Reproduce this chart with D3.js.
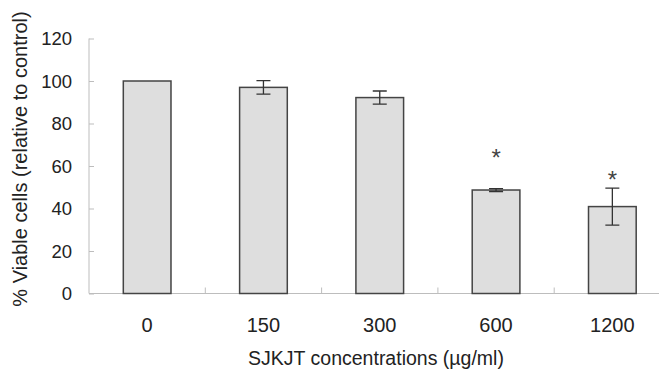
<!DOCTYPE html>
<html lang="en">
<head>
<meta charset="utf-8">
<title>Viable cells</title>
<script src="https://d3js.org/d3.v7.min.js"></script>
<style type="text/css">
body { margin: 0; background: #fff; }
svg  { display: block; font-family: "Liberation Sans", Arial, sans-serif; }
.bar { fill: #dedede; stroke: #444; stroke-width: 1.5; }
.err { stroke: #333; stroke-width: 1.3; fill: none; }
</style>
</head>
<body>
<script type="text/javascript">

// data
var categories = ["0", "150", "300", "600", "1200"];
var values     = [100, 97, 92.2, 48.7, 40.9];
var errors     = [0, 3.2, 3.1, 0.7, 8.7];
var stars      = [null, null, null, 60, 49.5];   // where the * marks sit
var yTicks     = [0, 20, 40, 60, 80, 100, 120];

var W = 659, H = 374;
var plotLeft = 89, plotBottom = 293.5, plotTop = 38.5;
var band = 116.3;

var svg = d3.select("body").append("svg")
    .attr("width", W)
    .attr("height", H);

var x = d3.scaleBand()
    .domain(categories)
    .range([plotLeft, plotLeft + band * categories.length])
    .paddingInner(0.59)
    .paddingOuter(0.295);

var y = d3.scaleLinear()
    .domain([0, 120])
    .range([plotBottom, plotTop]);

// y axis
var yAxis = svg.append("g")
    .attr("transform", "translate(" + plotLeft + ",0)")
    .call(d3.axisRight(y).tickValues(yTicks).tickSize(5).tickFormat(""));
yAxis.select(".domain").attr("stroke", "#bdbdbd").attr("d", "M0," + y(120) + "V" + plotBottom);
yAxis.selectAll(".tick line").attr("stroke", "#bdbdbd");

svg.selectAll(".ylab")
    .data(yTicks)
    .enter()
    .append("text")
    .attr("class", "ylab")
    .attr("x", 72)
    .attr("y", function(d) { return y(d) + 6.5; })
    .attr("text-anchor", "end")
    .attr("font-size", 18.5)
    .attr("fill", "#222")
    .text(function(d) { return d; });

// x axis, ticks sit between the categories
svg.append("line")
    .attr("x1", plotLeft).attr("x2", W)
    .attr("y1", plotBottom).attr("y2", plotBottom)
    .attr("stroke", "#bdbdbd");

svg.selectAll(".xtick")
    .data(categories.slice(1))
    .enter()
    .append("line")
    .attr("class", "xtick")
    .attr("x1", function(d) { return x(d) - x.step() * 0.59 / 2; })
    .attr("x2", function(d) { return x(d) - x.step() * 0.59 / 2; })
    .attr("y1", plotBottom)
    .attr("y2", plotBottom - 6)
    .attr("stroke", "#bdbdbd");

svg.selectAll(".xlab")
    .data(categories)
    .enter()
    .append("text")
    .attr("class", "xlab")
    .attr("x", function(d) { return x(d) + x.bandwidth() / 2; })
    .attr("y", 331.5)
    .attr("text-anchor", "middle")
    .attr("font-size", 20)
    .attr("fill", "#222")
    .text(function(d) { return d; });

// bars
svg.selectAll(".bar")
    .data(values)
    .enter()
    .append("rect")
    .attr("class", "bar")
    .attr("x", function(d, i) { return x(categories[i]); })
    .attr("width", x.bandwidth())
    .attr("y", function(d) { return y(d); })
    .attr("height", function(d) { return plotBottom - y(d); });

// error bars
var cx = function(i) { return x(categories[i]) + x.bandwidth() / 2; };
values.forEach(function(v, i) {
    if (!errors[i]) return;
    var hi = y(v + errors[i]), lo = y(v - errors[i]);
    svg.append("path")
        .attr("class", "err")
        .attr("d", "M" + cx(i) + "," + hi + "V" + lo +
                   "M" + (cx(i) - 7) + "," + hi + "H" + (cx(i) + 7) +
                   "M" + (cx(i) - 7) + "," + lo + "H" + (cx(i) + 7));
});

// significance marks
stars.forEach(function(s, i) {
    if (s === null) return;
    svg.append("text")
        .attr("x", cx(i))
        .attr("y", y(s))
        .attr("text-anchor", "middle")
        .attr("font-size", 24)
        .attr("fill", "#444")
        .text("*");
});

// axis titles
svg.append("text")
    .attr("x", 376)
    .attr("y", 365)
    .attr("text-anchor", "middle")
    .attr("font-size", 19.5)
    .attr("fill", "#222")
    .text("SJKJT concentrations (µg/ml)");

svg.append("text")
    .attr("transform", "translate(27,159) rotate(-90)")
    .attr("text-anchor", "middle")
    .attr("font-size", 20)
    .attr("fill", "#222")
    .text("% Viable cells (relative to control)");

</script>
</body>
</html>
